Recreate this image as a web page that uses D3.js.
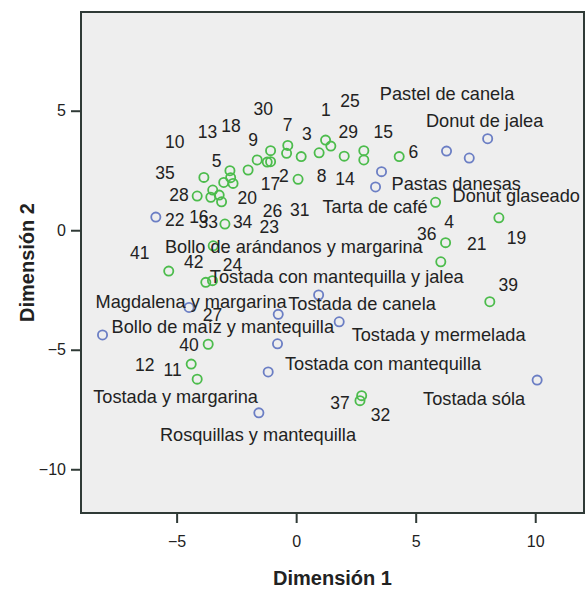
<!DOCTYPE html>
<html><head><meta charset="utf-8">
<script src="https://cdn.jsdelivr.net/npm/d3@7/dist/d3.min.js"></script>
<style>body{margin:0;background:#fff;} text{font-family:"Liberation Sans",Arial,sans-serif;}</style>
</head><body>
<script>
// Food items (blue)
const foodNames = ["Donut de jalea","Pastel de canela","Donut glaseado","Pastas danesas","Tarta de café",
  "Bollo de arándanos y margarina","Magdalena y margarina","Bollo de maíz y mantequilla","Tostada de canela",
  "Tostada con mantequilla","Tostada y margarina","Rosquillas y mantequilla","Tostada con mantequilla y jalea",
  "Tostada y mermelada","Tostada sóla"];
const foodX = [8.01, 6.29, 7.24, 3.57, 3.32, -5.87, -4.48, -8.10, -0.75, -0.78, -1.17, -1.56, 0.94, 1.80, 10.08];
const foodY = [3.83, 3.31, 3.02, 2.45, 1.81, 0.55, -3.23, -4.38, -3.52, -4.75, -5.93, -7.64, -2.71, -3.83, -6.27];
// label anchors (data units)
const foodLabelX = [5.43, 3.50, 6.54, 3.99, 1.10, -5.49, -8.39, -7.72, -0.33, -0.47, -8.49, -5.70, -3.61, 2.32, 5.31];
const foodLabelY = [4.61, 5.73, 1.47, 1.96, 0.98, -0.69, -2.96, -4.04, -3.06, -5.57, -6.97, -8.53, -1.95, -4.34, -7.03];

// Subjects (green)
const subjX = [-3.86,-4.14,-3.49,-3.22,-3.12,-3.57,-2.77,-2.74,-2.64,-3.03,-2.98,-2.01,-1.63,-1.07,-1.21,-1.07,-0.40,-0.35,0.21,0.08,0.96,1.23,1.45,2.01,2.83,2.83,4.31,5.83,8.48,6.25,-3.47,-5.33,-3.78,-3.50,-3.68,-4.39,-4.14,6.05,8.10,2.74,2.67];
const subjY = [2.21,1.43,1.68,1.47,1.19,1.38,2.49,2.20,1.96,2.00,0.26,2.52,2.94,3.33,2.85,2.87,3.22,3.55,3.08,2.13,3.24,3.77,3.52,3.10,3.33,2.94,3.08,1.17,0.52,-0.52,-0.65,-1.71,-2.18,-2.11,-4.77,-5.60,-6.23,-1.32,-2.99,-6.92,-7.13];
// subject number labels and their anchors (data units)
const subjLabels = ["1","2","3","4","5","6","7","8","9","10","11","12","13","14","15","16","17","18","19","20","21","22","23","24","25","26","27","28","29","30","31","32","33","34","35","36","37","39","40","41","42"];
const subjLabelX = [1.24,-0.51,0.45,6.40,-3.33,4.90,-0.36,1.06,-1.80,-5.08,-5.17,-6.33,-3.71,2.04,3.64,-4.07,-1.07,-2.73,9.22,-2.05,7.55,-5.08,-1.13,-2.66,2.25,-0.99,-3.50,-4.90,2.18,-1.38,0.15,3.53,-3.68,-2.24,-5.49,5.46,1.83,8.87,-4.48,-6.54,-4.28];
const subjLabelY = [5.03,2.27,4.03,0.36,2.90,3.28,4.40,2.29,3.77,3.70,-5.82,-5.61,4.12,2.17,4.12,0.56,1.96,4.36,-0.31,1.38,-0.55,0.46,0.15,-1.43,5.42,0.80,-3.55,1.50,4.12,5.10,0.87,-7.70,0.36,0.36,2.41,-0.13,-7.20,-2.29,-4.80,-0.94,-1.32];

const xTicks = [-5, 0, 5, 10];
const yTicks = [5, 0, -5, -10];
const xDomain = [-9.0, 12.04];
const yDomain = [-11.83, 9.13];

const W = 586, H = 589;
const m = {left: 81, top: 12, right: 2, bottom: 76};
const svg = d3.select("body").append("svg").attr("width", W).attr("height", H);
const x = d3.scaleLinear().domain(xDomain).range([m.left, W - m.right]);
const y = d3.scaleLinear().domain(yDomain).range([H - m.bottom, m.top]);

const blue = "#6b7ec4", green = "#4cbc4c";

svg.append("rect").attr("x", m.left).attr("y", m.top)
  .attr("width", W - m.right - m.left).attr("height", H - m.bottom - m.top)
  .attr("fill", "#eeeeee").attr("stroke", "#2f3a36").attr("stroke-width", 2);

const xAxis = svg.append("g").attr("transform", `translate(0,${H - m.bottom})`)
  .call(d3.axisBottom(x).tickValues(xTicks).tickSize(10).tickSizeOuter(0).tickPadding(13));
const yAxis = svg.append("g").attr("transform", `translate(${m.left},0)`)
  .call(d3.axisLeft(y).tickValues(yTicks).tickSize(10).tickSizeOuter(0).tickPadding(5));
[xAxis, yAxis].forEach(a => {
  a.select(".domain").remove();
  a.selectAll("line").attr("stroke", "#2f3a36").attr("stroke-width", 2);
  a.selectAll("text").attr("font-size", 16).attr("fill", "#222").attr("font-family", "Liberation Sans, Arial, sans-serif");
});

// subjects
subjX.forEach((v, i) => {
  svg.append("circle").attr("cx", x(v)).attr("cy", y(subjY[i])).attr("r", 4.6)
    .attr("fill", "none").attr("stroke", green).attr("stroke-width", 1.8);
});
// foods
foodX.forEach((v, i) => {
  svg.append("circle").attr("cx", x(v)).attr("cy", y(foodY[i])).attr("r", 4.6)
    .attr("fill", "none").attr("stroke", blue).attr("stroke-width", 1.8);
});
// subject labels
subjLabels.forEach((t, i) => {
  svg.append("text").attr("x", x(subjLabelX[i])).attr("y", y(subjLabelY[i])).attr("dy", "0.36em")
    .attr("text-anchor", "middle").attr("font-size", 17.5).attr("fill", "#222").text(t);
});
// food labels
foodNames.forEach((t, i) => {
  svg.append("text").attr("x", x(foodLabelX[i])).attr("y", y(foodLabelY[i])).attr("dy", "0.36em")
    .attr("font-size", 18.2).attr("fill", "#222").text(t);
});

svg.append("text").attr("x", (m.left + W - m.right) / 2).attr("y", 585)
  .attr("text-anchor", "middle").attr("font-size", 20).attr("font-weight", "bold").attr("fill", "#222").text("Dimensión 1");
svg.append("text").attr("transform", `translate(34,${(m.top + H - m.bottom) / 2}) rotate(-90)`)
  .attr("text-anchor", "middle").attr("font-size", 20).attr("font-weight", "bold").attr("fill", "#222").text("Dimensión 2");
</script>
</body></html>
